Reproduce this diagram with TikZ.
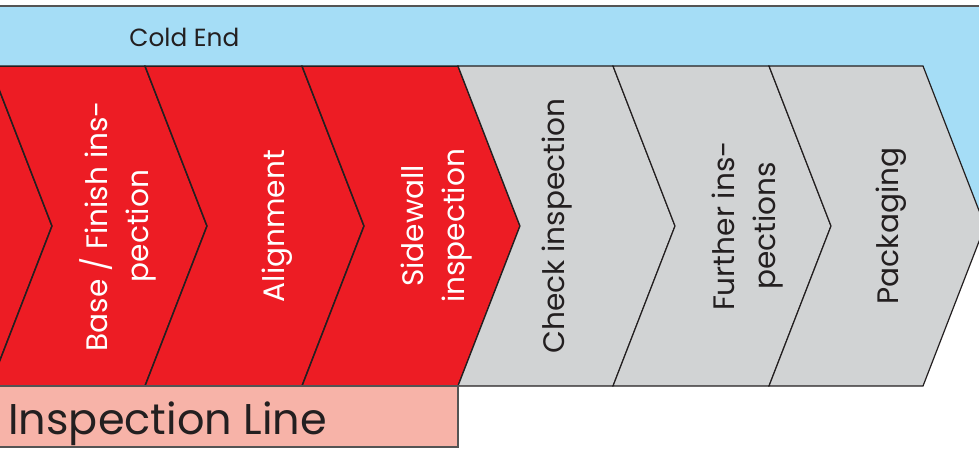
\documentclass[tikz,border=0pt]{standalone}
\usepackage{fontspec}
\setmainfont{Poppins}

\newlength{\du}
\setlength{\du}{0.5pt}

\begin{document}
\begin{tikzpicture}
\tikzstyle{every node}=[font=\fontsize{14.8}{20.5}\selectfont, inner sep=0pt]
\pgftransformxscale{1.000000}
\pgftransformyscale{-1.000000}
\useasboundingbox (0\du,0\du) rectangle (979\du,450\du);
\definecolor{coldblue}{rgb}{0.647, 0.867, 0.965}
\definecolor{inspred}{rgb}{0.929, 0.110, 0.141}
\definecolor{stagegrey}{rgb}{0.820, 0.827, 0.831}
\definecolor{linepink}{rgb}{0.969, 0.702, 0.659}
\definecolor{dialinecolor}{rgb}{0.137, 0.122, 0.125}
\definecolor{framegrey}{rgb}{0.330, 0.330, 0.330}
\tikzstyle{redstage}=[fill=inspred, draw=dialinecolor, line width=1.5\du, line join=miter]
\tikzstyle{greystage}=[fill=stagegrey, draw=dialinecolor, line width=1.2\du, line join=miter]
\tikzstyle{stagelabel}=[rotate=90, align=center, text=white]
\tikzstyle{darklabel}=[rotate=90, align=center, text=dialinecolor]
% cold end band
\fill[coldblue] (-4\du,6\du)--(1000\du,6\du)--(1000\du,226\du)--(-4\du,226\du)--cycle;
\draw[framegrey, line width=1.5\du] (-4\du,6\du)--(1000\du,6\du);
\node[anchor=base west, font=\fontsize{12.4}{15}\selectfont, text=dialinecolor] (coldend) at (129\du,46.5\du){Cold End};
% red stages
\draw[redstage] (-166\du,66\du)--(-10\du,66\du)--(52\du,226\du)--(-10\du,386\du)--(-166\du,386\du)--(-104\du,226\du)--cycle;
\draw[redstage] (-10\du,66\du)--(145\du,66\du)--(207\du,226\du)--(145\du,386\du)--(-10\du,386\du)--(52\du,226\du)--cycle;
\draw[redstage] (145\du,66\du)--(302\du,66\du)--(364\du,226\du)--(302\du,386\du)--(145\du,386\du)--(207\du,226\du)--cycle;
\draw[redstage] (302\du,66\du)--(458\du,66\du)--(520\du,226\du)--(458\du,386\du)--(302\du,386\du)--(364\du,226\du)--cycle;
% grey stages
\draw[greystage] (458\du,66\du)--(613\du,66\du)--(675\du,226\du)--(613\du,386\du)--(458\du,386\du)--(520\du,226\du)--cycle;
\draw[greystage] (613\du,66\du)--(769\du,66\du)--(831\du,226\du)--(769\du,386\du)--(613\du,386\du)--(675\du,226\du)--cycle;
\draw[greystage] (769\du,66\du)--(923\du,66\du)--(985\du,226\du)--(923\du,386\du)--(769\du,386\du)--(831\du,226\du)--cycle;
% inspection line box
\draw[fill=linepink, draw=framegrey, line width=1.5\du] (-4\du,386\du)--(458\du,386\du)--(458\du,447\du)--(-4\du,447\du)--cycle;
\node[anchor=base west, font=\fontsize{21.5}{26}\selectfont, text=dialinecolor] (inspline) at (8\du,434\du){Inspection Line};
% stage labels
\node[stagelabel] (basefinish) at (118\du,226\du){Base / Finish ins-\\pection};
\node[stagelabel] (alignment) at (277\du,226\du){Alignment};
\node[stagelabel] (sidewall) at (437\du,226\du){Sidewall\\inspection};
\node[darklabel] (check) at (557\du,226\du){Check inspection};
\node[darklabel] (further) at (748\du,226\du){Further ins-\\pections};
\node[darklabel] (packaging) at (891\du,226\du){Packaging};
\end{tikzpicture}
\end{document}
